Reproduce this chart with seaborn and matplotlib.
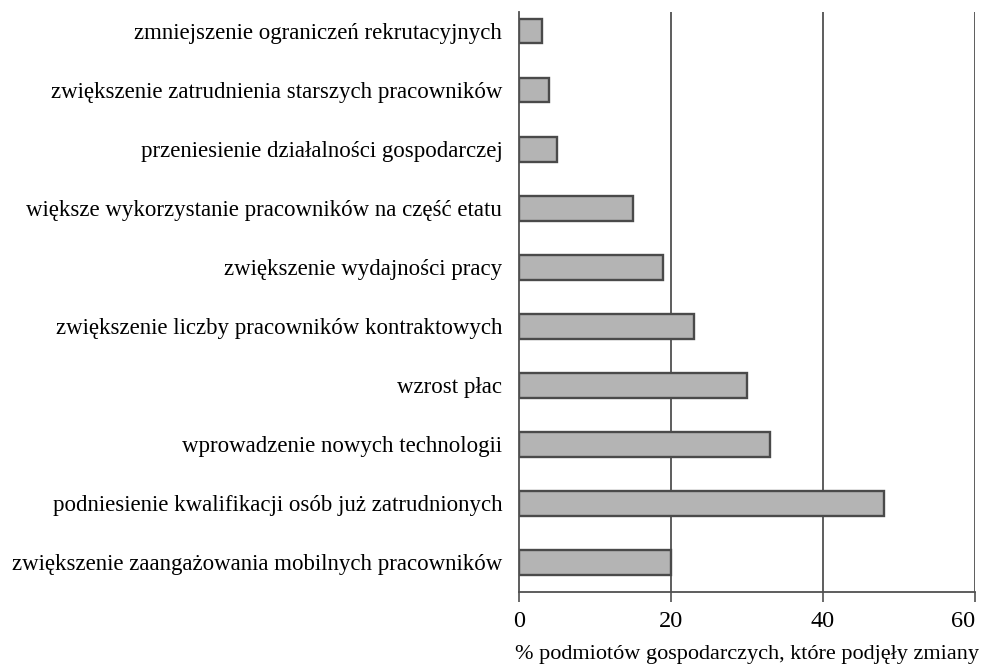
import matplotlib.pyplot as plt
import pandas as pd
import seaborn as sns

categories = [
    "zmniejszenie ograniczeń rekrutacyjnych",
    "zwiększenie zatrudnienia starszych pracowników",
    "przeniesienie działalności gospodarczej",
    "większe wykorzystanie pracowników na część etatu",
    "zwiększenie wydajności pracy",
    "zwiększenie liczby pracowników kontraktowych",
    "wzrost płac",
    "wprowadzenie nowych technologii",
    "podniesienie kwalifikacji osób już zatrudnionych",
    "zwiększenie zaangażowania mobilnych pracowników",
]
values = [3, 4, 5, 15, 19, 23, 30, 33, 48, 20]
xticks = [0, 20, 40, 60]

df = pd.DataFrame({"kategoria": categories, "procent": values})

sns.set_style("white")
plt.rcParams["font.family"] = ["Liberation Serif", "DejaVu Serif"]
plt.rcParams["text.color"] = "black"

fig = plt.figure(figsize=(9.82, 6.65), dpi=100)
ax = fig.add_axes([0.5285, 0.1098, 0.4643, 0.872])

sns.barplot(data=df, x="procent", y="kategoria", orient="h", order=categories,
            color="#b4b4b4", edgecolor="#4a4a4a", linewidth=1.7, width=0.42,
            saturation=1, ax=ax)

for x in xticks[1:]:
    ax.axvline(x, color="#505050", linewidth=1.3, zorder=0)

ax.set_xlim(0, 60)
ax.set_ylim(9.5, -0.32)
ax.set_xticks(xticks)
ax.set_xlabel("% podmiotów gospodarczych, które podjęły zmiany", fontsize=16,
              labelpad=9, color="black")
ax.set_ylabel("")

for side in ["top", "right"]:
    ax.spines[side].set_visible(False)
for side in ["left", "bottom"]:
    ax.spines[side].set_color("#505050")
    ax.spines[side].set_linewidth(1.3)

ax.tick_params(axis="x", direction="out", length=7, width=1.2, color="#505050",
               labelsize=17.5, pad=7, bottom=True, labelcolor="black")
ax.tick_params(axis="y", length=0, labelsize=16.5, pad=12, labelcolor="black")
# keep the last tick label inside the canvas, as in the reference
ax.get_xticklabels()[-1].set_horizontalalignment("right")
ax.get_xticklabels()[-1].set_x(60)

fig.savefig("out.png", dpi=100)
